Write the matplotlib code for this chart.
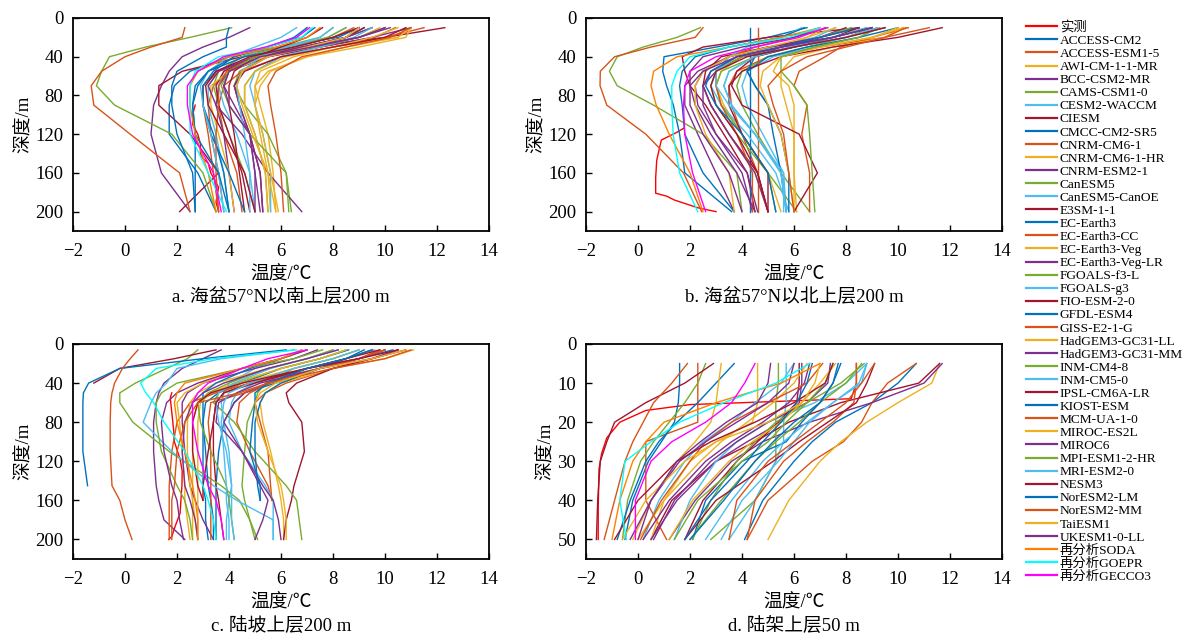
import numpy as np
import matplotlib
matplotlib.use('Agg')
import matplotlib.pyplot as plt

plt.rcParams['font.family'] = ['Liberation Serif', 'Noto Sans CJK SC']
plt.rcParams['axes.unicode_minus'] = True

nan = np.nan

models = ['ACCESS-CM2', 'ACCESS-ESM1-5', 'AWI-CM-1-1-MR', 'BCC-CSM2-MR', 'CAMS-CSM1-0',
          'CESM2-WACCM', 'CIESM', 'CMCC-CM2-SR5', 'CNRM-CM6-1', 'CNRM-CM6-1-HR',
          'CNRM-ESM2-1', 'CanESM5', 'CanESM5-CanOE', 'E3SM-1-1', 'EC-Earth3',
          'EC-Earth3-CC', 'EC-Earth3-Veg', 'EC-Earth3-Veg-LR', 'FGOALS-f3-L', 'FGOALS-g3',
          'FIO-ESM-2-0', 'GFDL-ESM4', 'GISS-E2-1-G', 'HadGEM3-GC31-LL', 'HadGEM3-GC31-MM',
          'INM-CM4-8', 'INM-CM5-0', 'IPSL-CM6A-LR', 'KIOST-ESM', 'MCM-UA-1-0',
          'MIROC-ES2L', 'MIROC6', 'MPI-ESM1-2-HR', 'MRI-ESM2-0', 'NESM3',
          'NorESM2-LM', 'NorESM2-MM', 'TaiESM1', 'UKESM1-0-LL']
reanalyses = ['再分析SODA', '再分析GOEPR', '再分析GECCO3']

# ---- a. basin south of 57N, upper 200 m
depth_a = [10, 20, 30, 40, 55, 70, 90, 120, 160, 200]
temp_a = [
    [9.0, 8.2, 6.0, 4.0, 2.5, 1.9, 1.7, 1.7, 2.8, 3.5],
    [10.4, 9.6, 7.5, 5.5, 4.0, 3.4, 3.2, 3.3, 3.6, 3.8],
    [10.8, 10.5, 8.0, 6.5, 5.2, 5.0, 5.2, 5.5, 5.7, 5.8],
    [4.8, 4.0, 3.0, 2.2, 1.7, 1.4, 1.1, 1.0, 1.4, 2.5],
    [9.5, 8.5, 7.0, 5.5, 4.4, 4.2, 4.6, 5.5, 6.2, 6.4],
    [7.0, 6.6, 5.5, 4.5, 3.6, 3.2, 3.2, 3.5, 3.8, 4.0],
    [12.3, 10.0, 7.0, 4.5, 2.2, 1.3, 1.3, 2.5, 3.6, 2.1],
    [9.2, 8.5, 7.0, 5.0, 3.5, 3.0, 3.0, 3.4, 3.8, 4.0],
    [11.5, 10.0, 8.0, 6.0, 4.5, 3.8, 3.6, 3.8, 4.3, 4.5],
    [11.0, 10.5, 8.5, 7.0, 5.6, 5.2, 5.0, 5.2, 5.5, 5.6],
    [11.0, 9.5, 7.5, 5.5, 4.0, 3.6, 3.5, 3.8, 4.0, 4.2],
    [8.0, 7.5, 6.0, 4.5, 3.6, 3.4, 3.6, 4.0, 4.6, 5.0],
    [8.5, 7.8, 6.2, 4.8, 3.8, 3.6, 3.8, 4.3, 4.8, 5.0],
    [9.2, 8.5, 6.8, 5.0, 3.8, 3.5, 3.6, 4.0, 4.5, 4.8],
    [9.0, 8.0, 6.5, 4.6, 3.2, 2.7, 2.6, 2.7, 2.7, 2.7],
    [10.0, 9.0, 7.0, 5.0, 3.6, 3.0, 3.0, 3.2, 3.4, 3.6],
    [9.8, 9.0, 7.2, 5.4, 4.0, 3.3, 3.3, 3.6, 4.0, 4.2],
    [9.5, 8.5, 6.8, 5.0, 3.6, 3.2, 3.5, 4.5, 5.5, 6.8],
    [10.0, 9.0, 7.5, 6.0, 5.0, 4.6, 4.6, 5.0, 5.4, 5.5],
    [9.5, 8.8, 7.5, 6.0, 5.0, 4.8, 5.0, 5.3, 5.6, 5.6],
    [7.6, 7.0, 6.0, 5.0, 4.2, 4.0, 4.0, 4.2, 4.4, 4.6],
    [7.0, 6.5, 5.5, 4.2, 3.4, 3.0, 3.0, 3.3, 4.0, 4.6],
    [8.8, 8.0, 6.5, 5.0, 3.9, 3.6, 3.6, 3.5, 3.5, 3.6],
    [10.5, 9.5, 8.0, 6.2, 5.0, 4.6, 4.6, 5.0, 5.4, 5.5],
    [10.2, 9.0, 7.0, 5.2, 4.0, 3.8, 4.2, 4.8, 5.0, 5.2],
    [4.1, 2.5, 0.8, -0.6, -0.9, -1.1, -0.4, 1.8, 3.0, 3.5],
    [6.6, 6.0, 5.0, 4.0, 3.2, 2.9, 3.0, 3.3, 3.6, 3.8],
    [10.8, 10.0, 8.0, 6.0, 4.6, 4.2, 4.4, 4.8, 5.2, 5.3],
    [4.0, 3.9, 3.9, 3.0, 2.0, 1.8, 1.8, 2.0, 2.6, 2.7],
    [2.3, 2.2, 1.0, 0.0, -0.9, -1.3, -1.2, 0.2, 2.1, 2.5],
    [11.0, 10.8, 9.0, 7.0, 5.5, 5.0, 5.0, 5.3, 5.6, 5.9],
    [9.0, 8.5, 7.0, 5.5, 4.5, 4.2, 4.4, 4.8, 5.0, 5.0],
    [8.5, 7.8, 6.5, 5.0, 4.0, 3.7, 4.0, 4.8, 6.2, 6.3],
    [8.0, 7.5, 6.2, 5.2, 4.5, 4.3, 4.4, 4.6, 4.8, 4.8],
    [9.0, 8.0, 6.5, 4.8, 3.5, 3.1, 3.2, 3.8, 4.6, 5.0],
    [7.3, 6.8, 5.5, 4.2, 3.2, 2.8, 2.6, 2.7, 3.6, 4.0],
    [11.0, 10.2, 8.5, 6.8, 5.8, 5.5, 5.6, 5.8, 6.0, 6.1],
    [9.0, 8.5, 7.0, 5.5, 4.5, 4.3, 4.5, 4.9, 5.5, 5.8],
    [10.0, 9.0, 7.2, 5.2, 4.0, 3.8, 4.0, 4.8, 5.2, 5.3],
]
rean_a = [
    [7.5, 7.0, 5.8, 4.0, 2.8, 2.5, 2.5, 2.7, 3.2, 3.5],
    [7.2, 6.8, 5.5, 3.6, 2.7, 2.5, 2.5, 2.5, 3.2, 3.9],
    [7.1, 6.6, 5.4, 3.8, 2.8, 2.4, 2.4, 2.6, 3.4, 3.7],
]
obs_depth_a = [90, 100, 110, 120, 130, 140, 145, 150, 160, 175, 190, 200]
obs_temp_a = [2.7, 2.6, 2.6, 2.8, 2.9, 2.9, 3.0, 3.2, 3.3, 3.6, 3.5, 3.6]

# ---- b. basin north of 57N, upper 200 m
depth_b = [10, 20, 30, 40, 55, 70, 90, 120, 160, 200]
temp_b = [
    [6.5, 5.0, 3.0, 1.0, 0.95, 1.1, 1.36, 1.6, 1.8, 3.6],
    [11.2, 9.5, 7.0, 5.0, 3.8, 3.5, 3.6, 4.0, 4.6, 5.0],
    [8.0, 7.0, 5.5, 4.0, 3.2, 3.0, 3.3, 4.0, 5.0, 5.5],
    [8.0, 7.0, 5.0, 3.5, 2.3, 1.8, 1.8, 2.3, 3.0, 3.7],
    [9.0, 8.0, 6.5, 5.0, 4.0, 3.8, 4.0, 4.6, 5.5, 6.6],
    [9.2, 8.5, 6.8, 5.2, 4.2, 4.0, 4.2, 4.8, 5.6, 5.7],
    [8.5, 5.0, 2.5, 1.7, 1.8, 2.0, 2.6, 3.3, 4.2, 4.5],
    [4.3, 4.3, 4.3, 4.3, 4.3, 4.3, 4.3, 4.3, 4.3, 4.3],
    [10.4, 9.0, 7.8, 7.2, 6.2, 6.0, 6.5, 6.3, 6.6, 6.6],
    [7.2, 6.5, 5.5, 4.0, 2.8, 2.5, 2.8, 3.5, 4.5, 5.0],
    [9.5, 8.0, 6.0, 4.0, 3.0, 2.5, 2.5, 3.0, 4.0, 4.4],
    [8.2, 7.0, 5.5, 4.0, 3.0, 2.8, 3.0, 3.8, 5.0, 6.1],
    [7.6, 6.8, 5.2, 3.8, 3.0, 2.8, 3.2, 4.2, 5.3, 5.8],
    [9.0, 7.5, 5.0, 3.2, 2.6, 2.5, 2.8, 3.5, 4.6, 5.0],
    [10.0, 8.5, 6.5, 5.0, 4.2, 4.5, 5.0, 5.2, 5.5, 5.7],
    [4.6, 4.6, 4.6, 4.6, 4.6, 4.6, 4.6, 4.6, 4.6, 4.6],
    [10.2, 9.5, 7.5, 6.0, 5.5, 5.5, 5.7, 6.0, 6.0, 6.1],
    [8.5, 7.0, 5.0, 3.5, 2.5, 2.2, 2.3, 3.0, 4.2, 4.6],
    [8.8, 7.5, 6.0, 4.5, 3.2, 3.0, 3.2, 4.0, 5.0, 5.3],
    [9.2, 8.0, 6.0, 4.5, 3.5, 3.3, 3.6, 4.5, 5.5, 5.7],
    [11.7, 10.0, 7.5, 5.5, 4.0, 3.5, 3.5, 4.0, 5.0, 5.0],
    [8.5, 7.0, 5.5, 4.5, 4.2, 4.5, 5.0, 5.5, 5.8, 5.8],
    [7.0, 6.0, 4.5, 3.5, 3.0, 3.0, 3.2, 3.8, 4.4, 4.4],
    [10.0, 9.0, 7.0, 5.5, 5.2, 5.8, 6.0, 6.0, 6.0, 6.0],
    [9.0, 7.5, 5.5, 3.8, 2.8, 2.5, 2.8, 3.5, 4.5, 5.0],
    [2.4, 1.5, 0.2, -0.8, -1.1, -0.8, 0.6, 2.5, 3.8, 4.0],
    [6.3, 5.5, 4.2, 3.5, 3.0, 3.0, 3.5, 4.5, 5.6, 5.6],
    [8.5, 7.5, 6.0, 4.5, 3.8, 3.6, 4.0, 6.2, 6.9, 6.0],
    [6.4, 5.5, 3.5, 2.2, 1.7, 1.6, 1.7, 1.8, 2.5, 3.7],
    [2.5, 2.2, 0.5, -0.9, -1.45, -1.46, -1.2, 0.3, 1.75, 2.45],
    [10.2, 9.0, 7.0, 5.5, 4.8, 4.7, 5.0, 5.5, 5.8, 6.0],
    [7.3, 6.0, 4.0, 2.5, 2.0, 2.0, 2.2, 2.8, 3.8, 4.5],
    [9.3, 8.5, 6.8, 5.5, 5.5, 6.0, 6.5, 6.6, 6.7, 6.8],
    [8.8, 7.5, 5.8, 4.5, 3.5, 3.3, 3.6, 4.5, 5.5, 5.7],
    [9.5, 8.0, 6.0, 4.2, 3.0, 2.8, 3.0, 3.8, 4.6, 5.0],
    [9.0, 7.5, 5.5, 3.8, 2.8, 2.6, 3.0, 4.0, 5.0, 5.3],
    [10.3, 9.5, 8.0, 6.5, 5.5, 5.0, 5.2, 5.6, 5.8, 6.0],
    [7.6, 6.5, 5.0, 3.5, 2.5, 2.2, 2.2, 2.6, 3.5, 3.7],
    [9.0, 7.5, 5.5, 3.8, 2.5, 2.0, 2.0, 2.5, 3.5, 4.0],
]
rean_b = [
    [7.0, 5.5, 3.5, 1.5, 0.6, 0.5, 0.7, 1.2, 2.0, 2.5],
    [7.0, 5.8, 3.5, 2.0, 1.5, 1.3, 1.3, 1.35, 1.6, 2.3],
    [7.2, 6.2, 4.5, 3.0, 2.0, 1.8, 1.75, 1.8, 2.1, 2.6],
]
obs_depth_b = [114, 118, 122, 126, 135, 147, 165, 181, 184, 188, 196, 200]
obs_temp_b = [1.75, 1.5, 1.2, 0.9, 0.82, 0.72, 0.68, 0.68, 1.1, 1.4, 2.3, 3.0]

# ---- c. continental slope, upper 200 m
depth_c = [6, 15, 25, 40, 50, 60, 80, 110, 145, 160, 180, 200]
temp_c = [
    [10.3, 9.0, 7.5, 5.8, 4.6, 4.2, 3.8, 3.6, 3.5, 3.5, 3.5, 3.5],
    [10.5, 9.5, 8.0, 6.2, 5.4, 5.0, 5.2, 5.5, 5.6, 5.65, nan, nan],
    [11.1, 10.0, 8.0, 6.0, 5.4, 5.2, 5.3, 5.6, 5.9, 6.0, 6.1, 6.1],
    [3.7, 3.0, 2.2, 1.5, 1.3, 1.2, 1.1, 1.1, 1.2, 1.3, 1.5, 2.3],
    [9.0, 8.0, 6.5, 5.4, 5.1, 5.0, 4.7, 4.6, 4.5, 4.6, 4.8, 5.0],
    [6.8, 6.0, 5.0, 4.0, 3.8, 3.7, 3.8, 4.0, 4.1, 4.0, 3.9, 3.9],
    [10.8, 9.5, 8.0, 6.6, 6.2, 6.3, 6.8, 6.9, 6.5, 6.4, 6.2, 6.1],
    [8.6, 7.5, 6.0, 4.5, 3.6, 3.1, 3.0, 3.0, 3.0, 3.1, 3.1, 3.2],
    [9.8, 9.0, 7.5, 5.6, 4.8, 4.4, 4.3, 4.8, 5.5, 5.65, nan, nan],
    [9.0, 8.0, 6.5, 4.5, 3.4, 2.8, 2.6, 2.6, 2.6, 2.6, 2.6, 2.6],
    [7.4, 6.5, 5.0, 3.0, 2.4, 2.2, 2.2, 2.3, 2.5, 2.7, 3.0, 3.4],
    [8.5, 7.5, 6.0, 4.3, 3.6, 3.4, 4.2, 5.0, 6.2, 6.6, 6.7, 6.8],
    [9.6, 8.5, 7.0, 5.0, 4.3, 4.1, 4.0, 4.5, 5.4, 5.7, 5.7, 5.7],
    [10.0, 9.0, 7.0, 4.8, 3.8, 3.5, 3.4, 3.4, 3.5, 3.6, 3.7, 3.8],
    [9.2, 8.5, 7.5, 6.0, 5.4, 5.2, 5.0, 5.0, 5.1, 5.2, nan, nan],
    [10.0, 9.0, 7.5, 4.8, 3.5, 2.5, 2.0, 1.8, 1.7, 1.7, 1.7, 1.7],
    [8.0, 7.0, 5.5, 3.5, 2.8, 2.5, 2.4, 2.4, 2.5, 2.6, 2.7, 2.8],
    [9.5, 8.5, 7.0, 5.5, 4.6, 4.2, 3.8, 4.5, 5.3, 5.7, 5.9, 6.0],
    [2.8, 2.4, 1.6, 0.4, -0.2, -0.2, 0.3, 1.7, 3.7, 4.4, 4.8, 5.1],
    [6.5, 3.7, 2.0, 1.6, 1.2, 1.0, 0.7, 1.8, 3.4, 4.3, 5.7, 5.7],
    [3.5, 1.9, -0.2, -1.2, nan, nan, nan, nan, nan, nan, nan, nan],
    [7.0, 6.0, 4.8, 3.5, 3.0, 3.0, 3.0, 3.1, 3.2, 3.3, 3.4, 3.4],
    [10.0, 9.0, 7.5, 5.5, 4.6, 3.3, 3.2, 3.3, 3.3, 3.3, 3.3, 3.3],
    [8.5, 7.5, 6.0, 4.2, 3.3, 2.9, 2.8, 2.8, 2.8, 2.8, 2.8, 2.8],
    [10.5, 9.5, 7.5, 5.2, 4.3, 3.6, 3.5, 4.5, 5.2, 5.5, 5.3, 5.0],
    [8.0, 7.0, 5.5, 4.0, 3.2, 2.8, 2.9, 3.3, 3.9, 4.0, 4.1, 4.2],
    [8.2, 7.0, 5.6, 4.2, 3.6, 3.5, 3.6, 3.9, 4.1, 4.1, 4.1, 4.2],
    [9.8, 8.5, 7.0, 5.0, 3.8, 3.5, 3.4, 3.2, 3.0, 3.0, nan, nan],
    [6.2, 3.0, -0.2, -1.4, -1.6, -1.62, -1.62, -1.62, -1.44, nan, nan, nan],
    [0.5, 0.2, -0.1, -0.4, -0.5, -0.55, -0.57, -0.57, -0.5, -0.2, 0.0, 0.27],
    [7.0, 6.0, 4.5, 3.0, 2.3, 2.0, 2.1, 2.2, 2.3, 2.3, 2.4, 2.5],
    [8.2, 7.0, 5.5, 3.8, 3.0, 2.6, 2.3, 2.2, 2.3, 2.5, 2.7, 2.8],
    [7.6, 6.5, 4.5, 2.0, 1.4, 1.2, 1.2, 1.4, 2.0, 2.3, 2.5, 2.6],
    [9.0, 8.0, 6.5, 4.8, 4.0, 3.8, 3.7, 3.8, 3.9, 3.9, 4.0, 4.0],
    [10.5, 9.0, 7.0, 4.5, 3.3, 2.8, 2.6, 2.6, 2.8, 3.0, nan, nan],
    [9.5, 8.5, 7.0, 5.5, 5.0, 5.0, 4.9, 4.8, 5.2, 5.2, nan, nan],
    [11.0, 10.0, 8.0, 5.5, 4.4, 2.8, 2.3, 2.0, 1.9, 1.8, 1.8, 1.8],
    [10.8, 9.5, 7.5, 5.8, 5.2, 5.0, 5.1, 5.5, 6.0, 6.1, 6.2, 6.2],
    [7.0, 6.0, 4.5, 2.8, 2.0, 1.6, 1.4, 1.5, 1.8, 2.0, 2.1, 2.25],
]
rean_c = [
    [6.8, 6.0, 4.5, 2.3, 2.0, 1.9, 2.0, 2.3, 2.6, 2.7, 2.8, 2.8],
    [6.6, 3.4, 1.2, 0.6, 0.8, 1.1, 1.5, 2.3, 3.0, 3.2, 3.4, 3.5],
    [7.0, 5.5, 4.5, 3.2, 2.8, 2.6, 2.6, 2.8, 3.2, 3.5, 3.7, 3.8],
]
obs_depth_c = [50, 55, 70, 88, 100, 118, 130, 145, 160, 173, 185, 197, 200]
obs_temp_c = [1.8, 1.74, 1.8, 1.87, 1.9, 2.12, 2.2, 2.19, 2.15, 2.12, 1.95, 1.8, 1.68]

# ---- d. continental shelf, upper 50 m
depth_d = [5, 10, 15, 20, 25, 30, 40, 50]
temp_d = [
    [10.7, 10.0, 9.0, 7.6, 6.7, 6.0, 4.8, 4.1],
    [10.7, 9.6, 9.0, 8.6, 7.9, 6.7, 5.0, 4.2],
    [11.6, 11.3, 10.0, 8.8, 7.8, 7.0, 5.8, 5.0],
    [11.7, 11.0, 9.0, 6.6, 4.8, 3.6, 2.2, 1.2],
    [5.4, 5.4, 5.3, 5.3, 5.3, 5.3, 4.5, 2.8],
    [5.7, 5.7, 5.7, 5.6, 5.6, 5.3, 4.5, 3.5],
    [11.6, 10.8, 7.8, 5.8, 4.5, 3.0, 1.3, 0.5],
    [1.6, 1.6, 1.55, 1.4, 0.9, 0.4, -0.2, -0.5],
    [2.3, 2.3, 2.3, 2.3, 0.3, 0.3, 0.3, 1.1],
    [4.6, 4.6, 4.6, 4.4, 3.0, 2.0, 1.0, 0.5],
    [6.3, 6.3, 6.2, 5.5, 4.2, 3.0, 1.5, 0.5],
    [2.6, 2.3, 1.8, 1.2, 0.6, 0.1, -0.4, -0.6],
    [8.8, 8.0, 6.8, 5.0, 3.8, 3.0, 2.0, 1.4],
    [2.9, 1.8, 0.3, -0.9, -1.2, -1.45, -1.55, -1.6],
    [3.7, 3.0, 2.3, 1.5, 0.8, 0.3, -0.3, -0.8],
    [1.9, 1.3, 0.6, 0.2, -0.2, -0.5, -0.9, -1.3],
    [3.2, 3.1, 3.0, 2.8, 2.2, 1.5, 0.5, -0.2],
    [7.4, 7.3, 6.5, 5.0, 3.8, 2.8, 1.4, 0.6],
    [8.6, 8.0, 7.0, 6.2, 5.3, 4.5, 3.2, 2.0],
    [6.0, 5.5, 4.5, 3.6, 2.5, 1.8, 0.8, 0.2],
    [6.2, 6.2, 6.1, 5.4, 4.6, 3.8, 2.5, 1.8],
    [7.7, 7.5, 7.0, 6.3, 5.7, 4.0, 2.6, 2.1],
    [8.4, 8.4, 8.3, 7.5, 6.5, 5.6, 4.5, 4.2],
    [6.5, 6.0, 5.2, 4.2, 3.2, 2.4, 1.0, 0.0],
    [6.6, 6.4, 5.8, 4.8, 3.6, 2.6, 1.2, 0.2],
    [8.7, 7.8, 6.5, 5.3, 4.5, 3.8, 2.8, 2.1],
    [8.8, 8.5, 7.5, 6.5, 5.6, 4.8, 3.6, 2.6],
    [9.1, 8.8, 8.4, 7.3, 6.2, 5.2, 3.0, 1.8],
    [7.8, 7.5, 7.0, 6.0, 5.2, 4.5, 3.3, 2.0],
    [7.1, 6.5, 5.0, 3.6, 2.6, 2.0, 0.9, 0.1],
    [7.6, 7.0, 6.3, 5.5, 4.4, 3.5, 2.1, 1.2],
    [6.0, 5.8, 5.0, 3.8, 2.6, 1.6, 0.5, -0.3],
    [7.5, 7.2, 6.5, 5.7, 5.0, 4.0, 2.3, 1.4],
    [8.8, 8.6, 7.5, 6.6, 6.0, 5.4, 4.0, 3.2],
    [7.5, 7.2, 6.0, 4.5, 2.8, 1.5, 0.0, -0.9],
    [6.7, 6.5, 6.1, 5.5, 4.8, 4.2, 2.8, 1.8],
    [9.1, 8.6, 8.0, 7.0, 6.0, 5.0, 3.8, 3.5],
    [7.0, 6.8, 6.3, 5.0, 3.0, 1.8, 0.3, -0.6],
    [5.1, 5.0, 4.6, 3.4, 2.4, 1.5, 0.5, 0.0],
]
rean_d = [
    [7.0, 5.5, 3.0, 1.0, 0.3, -0.2, -0.7, -1.0],
    [6.6, 5.3, 3.3, 1.6, 0.5, -0.5, -0.7, -0.45],
    [4.5, 4.1, 3.6, 2.6, 1.3, 0.5, -0.1, -0.1],
]
obs_depth_d = [5, 10, 14, 15.5, 17, 20, 24, 28, 32, 42, 50]
obs_temp_d = [8.4, 8.4, 8.2, 2.0, 0.3, -0.7, -1.2, -1.4, -1.5, -1.53, -1.53]

titles = ['a. 海盆57°N以南上层200 m', 'b. 海盆57°N以北上层200 m',
          'c. 陆坡上层200 m', 'd. 陆架上层50 m']

model_colors = ['#0072BD', '#D95319', '#EDB120', '#7E2F8E', '#77AC30', '#4DBEEE', '#A2142F']
rean_colors = ['#FF8000', '#00FFFF', '#FF00FF']

W, H = 1189, 637
fig = plt.figure(figsize=(W / 100, H / 100), dpi=100)

# axes boxes in pixels: left, top, right, bottom
boxes = [(73, 18, 489, 231), (586, 18, 1002, 231),
         (73, 344, 489, 559), (586, 344, 1002, 559)]
panels = [
    (depth_a, temp_a, rean_a, obs_depth_a, obs_temp_a, 220, 40),
    (depth_b, temp_b, rean_b, obs_depth_b, obs_temp_b, 220, 40),
    (depth_c, temp_c, rean_c, obs_depth_c, obs_temp_c, 220, 40),
    (depth_d, temp_d, rean_d, obs_depth_d, obs_temp_d, 55, 10),
]

handles = None
for k, (box, panel) in enumerate(zip(boxes, panels)):
    l, t, r, b = box
    ax = fig.add_axes([l / W, 1 - b / H, (r - l) / W, (b - t) / H])
    depth, temps, reans, od, ot, ymax, ystep = panel
    hs = []
    h, = ax.plot(ot, od, color='#FF0000', lw=1.0)
    hs.append(h)
    for i, row in enumerate(temps):
        h, = ax.plot(row, depth, color=model_colors[i % 7], lw=1.0)
        hs.append(h)
    for j, row in enumerate(reans):
        h, = ax.plot(row, depth, color=rean_colors[j], lw=1.0)
        hs.append(h)
    if handles is None:
        handles = hs

    ax.set_xlim(-2, 14)
    ax.set_xticks(np.arange(-2, 15, 2))
    ax.set_ylim(ymax, 0)
    ax.set_yticks(np.arange(0, (ymax // ystep) * ystep + 1, ystep))
    ax.tick_params(axis='x', direction='in', length=4, width=1, labelsize=13.5, pad=9, top=False)
    ax.tick_params(axis='y', direction='in', length=4, width=1, labelsize=13.5, pad=7, right=False)
    for sp in ax.spines.values():
        sp.set_linewidth(1.3)
    ax.set_xlabel('温度/℃', fontsize=13.5, labelpad=4)
    ax.set_ylabel('深度/m', fontsize=13.5, labelpad=2)
    ax.text(0.5, -0.31, titles[k], transform=ax.transAxes, ha='center', va='center',
            fontsize=13.5)

labels = ['实测'] + models + reanalyses
leg = fig.legend(handles, labels, loc='upper left', bbox_to_anchor=(1026 / W, 1 - 21 / H),
                 frameon=False, fontsize=9.6, handlelength=2.3, handletextpad=0.25,
                 labelspacing=0.055, borderaxespad=0, borderpad=0)
for lh in leg.get_lines():
    lh.set_linewidth(1.6)

plt.savefig('out.png', dpi=100)
